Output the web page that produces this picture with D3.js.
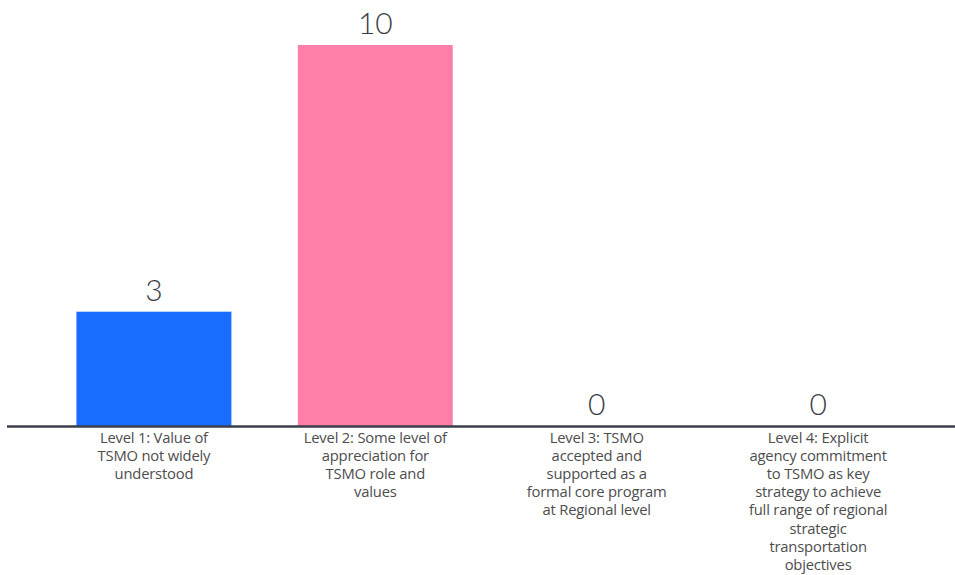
<!DOCTYPE html>
<html>
<head>
<meta charset="utf-8">
<script src="https://cdn.jsdelivr.net/npm/d3@7"></script>
<style>
  html, body { margin: 0; padding: 0; background: #ffffff; }
  svg { display: block; }
</style>
</head>
<body>
<svg id="chart" width="955" height="575"></svg>
<script>
// Survey responses by TSMO maturity level
const categories = [
  "Level 1: Value of\nTSMO not widely\nunderstood",
  "Level 2: Some level of\nappreciation for\nTSMO role and\nvalues",
  "Level 3: TSMO\naccepted and\nsupported as a\nformal core program\nat Regional level",
  "Level 4: Explicit\nagency commitment\nto TSMO as key\nstrategy to achieve\nfull range of regional\nstrategic\ntransportation\nobjectives"
];
const values = [3, 10, 0, 0];
const colors = ["#1a6bff", "#ff7fa8", "#1a6bff", "#ff7fa8"];

const svg = d3.select("#chart");
const baseY = 426;

const x = d3.scaleBand()
  .domain(categories)
  .range([10, 962])
  .paddingInner(0.3)
  .paddingOuter(0.3);

const y = d3.scaleLinear()
  .domain([0, 10])
  .range([baseY, 45]);

// bars
svg.selectAll("rect.bar")
  .data(values)
  .join("rect")
  .attr("class", "bar")
  .attr("x", (d, i) => x(categories[i]))
  .attr("width", x.bandwidth())
  .attr("y", d => y(d))
  .attr("height", d => baseY - y(d))
  .attr("fill", (d, i) => colors[i]);

// value labels
svg.selectAll("text.val")
  .data(values)
  .join("text")
  .attr("class", "val")
  .attr("x", (d, i) => x(categories[i]) + x.bandwidth() / 2)
  .attr("y", d => y(d) - 11)
  .attr("text-anchor", "middle")
  .attr("font-family", "Lato, sans-serif")
  .attr("font-weight", 300)
  .attr("font-size", 30)
  .attr("fill", "#3a3d45")
  .text(d => d);

// baseline
svg.append("line")
  .attr("x1", 7).attr("x2", 955)
  .attr("y1", baseY + 0.5).attr("y2", baseY + 0.5)
  .attr("stroke", "#3a3f4a")
  .attr("stroke-width", 2.5);

// category labels
const labels = svg.selectAll("text.cat")
  .data(categories)
  .join("text")
  .attr("class", "cat")
  .attr("text-anchor", "middle")
  .attr("font-family", "'Open Sans', sans-serif")
  .attr("font-size", 14.8)
  .attr("letter-spacing", -0.2)
  .attr("fill", "#4d4d4d")
  .attr("transform", d => `translate(${x(d) + x.bandwidth() / 2},${baseY + 17})`);

labels.selectAll("tspan")
  .data(d => d.split("\n"))
  .join("tspan")
  .attr("x", 0)
  .attr("dy", (d, i) => i === 0 ? 0 : 18.1)
  .text(d => d);
</script>
</body>
</html>
